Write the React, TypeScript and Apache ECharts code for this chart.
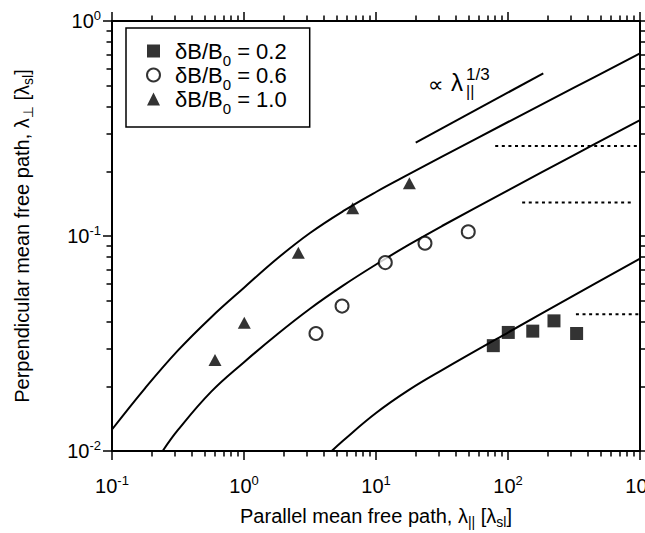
import React, { useEffect, useRef } from 'react';
import * as echarts from 'echarts';

const FONT = '"Liberation Sans", Arial, Helvetica, "DejaVu Sans", sans-serif';

// ---- data ----
const legendValues = ['0.2', '0.6', '1.0'];
const seriesNames = legendValues.map((v) => `δB/B0 = ${v}`);

const sqX = [77.4, 100.5, 154, 223, 331];
const sqY = [0.0309, 0.0356, 0.0361, 0.0403, 0.0352];
const ciX = [3.51, 5.53, 11.76, 23.5, 50];
const ciY = [0.0352, 0.0472, 0.0752, 0.0925, 0.1047];
const trX = [0.603, 1.005, 2.58, 6.66, 17.9];
const trY = [0.0265, 0.0395, 0.0835, 0.1346, 0.176];

const curveHiX = [0.1, 0.1778, 0.3162, 0.5623, 1, 1.778, 3.162, 5.623, 10, 17.78, 31.62, 100, 316.2, 1000];
const curveHiY = [0.01259, 0.01957, 0.02937, 0.04182, 0.05747, 0.07839, 0.1033, 0.1304, 0.1602, 0.1938, 0.2338, 0.339, 0.4896, 0.7069];
const curveMidX = [0.242, 0.3162, 0.5623, 1, 1.778, 3.162, 5.623, 10, 17.78, 31.62, 100, 316.2, 1000];
const curveMidY = [0.01, 0.01253, 0.01883, 0.02588, 0.03485, 0.04591, 0.05878, 0.0737, 0.09111, 0.1113, 0.163, 0.2378, 0.346];
const curveLoX = [4.617, 5.623, 10, 17.78, 31.62, 100, 316.2, 1000];
const curveLoY = [0.01, 0.01117, 0.01502, 0.01924, 0.02378, 0.03557, 0.05288, 0.07857];

const slopeX = [20, 185];
const slopeY = [0.2716, 0.571];

const dot1X = [80, 1000];
const dot1Y = [0.2625, 0.2625];
const dot2X = [128, 885];
const dot2Y = [0.143, 0.143];
const dot3X = [327, 1000];
const dot3Y = [0.0433, 0.0433];

const xMajorTicks = [0.1, 1, 10, 100, 1000];
const xTickExp = ['-1', '0', '1', '2', '3'];
const yMajorTicks = [0.01, 0.1, 1];
const yTickExp = ['-2', '-1', '0'];

// ---- helpers ----
const zip = (xs: number[], ys: number[]) => xs.map((x, i) => [x, ys[i]]);
const minorOf = (majors: number[]) => {
  const out: number[] = [];
  for (let i = 0; i < majors.length - 1; i++) {
    for (let k = 2; k <= 9; k++) out.push(majors[i] * k);
  }
  return out;
};
const expLabel = (majors: number[], exps: string[]) => (v: number) => {
  let idx = 0;
  let best = Infinity;
  majors.forEach((m, i) => {
    const d = Math.abs(Math.log10(v) - Math.log10(m));
    if (d < best) {
      best = d;
      idx = i;
    }
  });
  return `{b|10}{s|${exps[idx]}}`;
};

const labelRich = {
  b: { fontSize: 20, fontFamily: FONT, color: '#000', lineHeight: 22 },
  s: { fontSize: 13, fontFamily: FONT, color: '#000', lineHeight: 22, padding: [0, 0, 11, 0] },
};
const nameRich = {
  n: { fontSize: 20, fontFamily: FONT, color: '#000', lineHeight: 24 },
  sub: { fontSize: 14, fontFamily: FONT, color: '#000', lineHeight: 24, padding: [12, 0, 0, 0] },
};

const LINE = { color: '#000', width: 2 };
const TICK = { color: '#000', width: 1.5 };

function makeAxis(kind: 'x' | 'y', position: string, major: boolean, withLabels: boolean) {
  const majors = kind === 'x' ? xMajorTicks : yMajorTicks;
  const exps = kind === 'x' ? xTickExp : yTickExp;
  const axis: any = {
    type: 'log',
    logBase: 10,
    min: majors[0],
    max: majors[majors.length - 1],
    position,
    gridIndex: 0,
    axisLine: { show: major, onZero: false, lineStyle: LINE },
    axisTick: {
      show: true,
      inside: false,
      length: major ? 9 : 5.5,
      customValues: major ? majors : minorOf(majors),
      lineStyle: TICK,
    },
    minorTick: { show: false },
    splitLine: { show: false },
    axisPointer: { show: false },
    axisLabel: withLabels
      ? {
          show: true,
          customValues: majors,
          formatter: expLabel(majors, exps),
          margin: kind === 'x' ? 24 : 11,
          rich: labelRich,
        }
      : { show: false },
  };
  if (withLabels && kind === 'x') {
    axis.name = '{n|Parallel mean free path, λ}{sub|||}{n| [λ}{sub|sl}{n|]}';
    axis.nameLocation = 'middle';
    axis.nameGap = 51;
    axis.nameTextStyle = { rich: nameRich };
  }
  if (withLabels && kind === 'y') {
    axis.name = '{n|Perpendicular mean free path, λ}{sub|⊥}{n| [λ}{sub|sl}{n|]}';
    axis.nameLocation = 'middle';
    axis.nameGap = 78;
    axis.nameTextStyle = { rich: nameRich };
  }
  return axis;
}

const lineSeries = (xs: number[], ys: number[], extra: any = {}) => ({
  type: 'line',
  data: zip(xs, ys),
  xAxisIndex: 0,
  yAxisIndex: 0,
  symbol: 'none',
  showSymbol: false,
  silent: true,
  z: 3,
  lineStyle: { color: '#000', width: 2 },
  ...extra,
});

const legendRich = {
  m0: { fontSize: 22, fontFamily: FONT, color: '#000', lineHeight: 24, padding: [0, 0, 0, 10] },
  m: { fontSize: 22, fontFamily: FONT, color: '#000', lineHeight: 24 },
  s: { fontSize: 15, fontFamily: FONT, color: '#000', lineHeight: 24, padding: [19, 0, 0, 0] },
};

const option: any = {
  animation: false,
  backgroundColor: '#fff',
  textStyle: { fontFamily: FONT },
  grid: { left: 112, right: 5, top: 21, bottom: 82, containLabel: false, outerBoundsMode: 'none' },
  xAxis: [
    makeAxis('x', 'bottom', true, true),
    makeAxis('x', 'bottom', false, false),
    makeAxis('x', 'top', true, false),
    makeAxis('x', 'top', false, false),
  ],
  yAxis: [
    makeAxis('y', 'left', true, true),
    makeAxis('y', 'left', false, false),
    makeAxis('y', 'right', true, false),
    makeAxis('y', 'right', false, false),
  ],
  legend: {
    data: seriesNames,
    orient: 'vertical',
    left: 126,
    top: 28,
    backgroundColor: '#fff',
    borderColor: '#000',
    borderWidth: 1.5,
    borderRadius: 0,
    padding: [6, 23, 11, 20],
    itemWidth: 13,
    itemHeight: 13,
    itemGap: -10,
    selectedMode: false,
    formatter: (name: string) => {
      const v = name.split('= ')[1];
      return `{m0|δB/B}{s|0}{m| = ${v}}`;
    },
    textStyle: { rich: legendRich },
  },
  graphic: [
    { type: 'text', x: 428, y: 84, style: { text: '∝', fontSize: 22, fontFamily: FONT, fill: '#000', align: 'left', verticalAlign: 'middle' } },
    { type: 'text', x: 451, y: 82.5, style: { text: 'λ', fontSize: 24, fontFamily: FONT, fill: '#000', align: 'left', verticalAlign: 'middle', lineHeight: 20 } },
    { type: 'text', x: 466, y: 74, style: { text: '1/3', fontSize: 17, fontFamily: FONT, fill: '#000', align: 'left', verticalAlign: 'middle', lineHeight: 14 } },
    { type: 'text', x: 466, y: 91, style: { text: '||', fontSize: 16, fontFamily: FONT, fill: '#000', align: 'left', verticalAlign: 'middle', lineHeight: 13 } },
  ],
  series: [
    lineSeries(curveHiX, curveHiY, { smooth: 0.4 }),
    lineSeries(curveMidX, curveMidY, { smooth: 0.4 }),
    lineSeries(curveLoX, curveLoY, { smooth: 0.4 }),
    lineSeries(slopeX, slopeY),
    lineSeries(dot1X, dot1Y, { lineStyle: { color: '#000', width: 2, type: [3, 3.6] } }),
    lineSeries(dot2X, dot2Y, { lineStyle: { color: '#000', width: 2, type: [3, 3.6] } }),
    lineSeries(dot3X, dot3Y, { lineStyle: { color: '#000', width: 2, type: [3, 3.6] } }),
    {
      type: 'scatter',
      name: seriesNames[0],
      data: zip(sqX, sqY),
      xAxisIndex: 0,
      yAxisIndex: 0,
      symbol: 'rect',
      symbolSize: 13,
      itemStyle: { color: '#000' },
      z: 5,
    },
    {
      type: 'scatter',
      name: seriesNames[1],
      data: zip(ciX, ciY),
      xAxisIndex: 0,
      yAxisIndex: 0,
      symbol: 'circle',
      symbolSize: 13,
      itemStyle: { color: '#fff', borderColor: '#000', borderWidth: 2 },
      z: 5,
    },
    {
      type: 'scatter',
      name: seriesNames[2],
      data: zip(trX, trY),
      xAxisIndex: 0,
      yAxisIndex: 0,
      symbol: 'triangle',
      symbolSize: [13, 12],
      itemStyle: { color: '#000' },
      z: 5,
    },
  ],
};

export default function App() {
  const ref = useRef<HTMLDivElement>(null);
  useEffect(() => {
    if (!ref.current) return;
    const chart = echarts.init(ref.current, null, { renderer: 'svg' });
    chart.setOption(option);
    return () => chart.dispose();
  }, []);
  return (
    <div
      ref={ref}
      style={{ position: 'fixed', left: 0, top: 0, width: 645, height: 533, background: '#fff' }}
    />
  );
}
